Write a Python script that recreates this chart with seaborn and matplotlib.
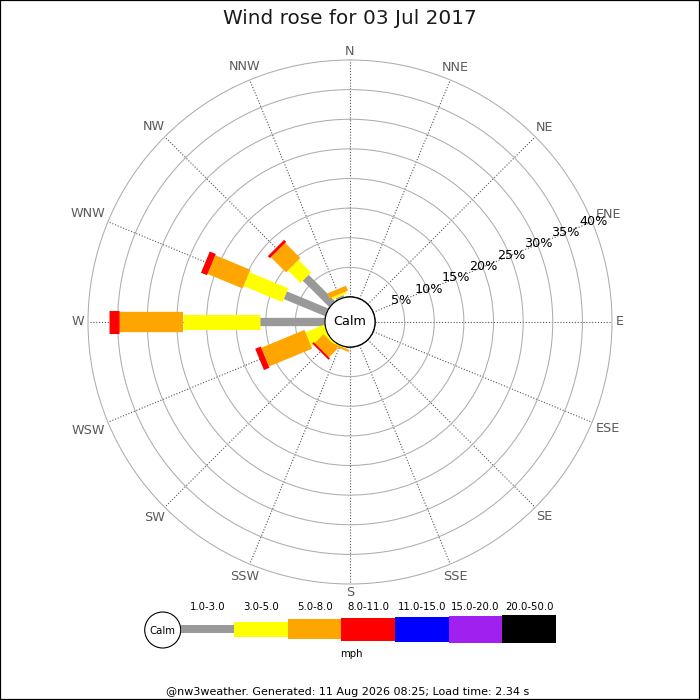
import numpy as np
import pandas as pd
import matplotlib
matplotlib.use("Agg")
import matplotlib.pyplot as plt
import seaborn as sns
from matplotlib.patches import Circle, Rectangle

# ---------------- data ----------------
directions = ['N', 'NNE', 'NE', 'ENE', 'E', 'ESE', 'SE', 'SSE',
              'S', 'SSW', 'SW', 'WSW', 'W', 'WNW', 'NW', 'NNW']
speed_bins = ['1.0-3.0', '3.0-5.0', '5.0-8.0', '8.0-11.0',
              '11.0-15.0', '15.0-20.0', '20.0-50.0']
#               N  NNE NE ENE E ESE SE SSE S  SSW   SW    WSW   W     WNW   NW    NNW
freq_1_3   = [0, 0, 0, 0, 0, 0, 0, 0, 0, 0.10, 0.00, 0.00, 11.0, 7.6, 6.35, 0.40]
freq_3_5   = [0, 0, 0, 0, 0, 0, 0, 0, 0, 0.10, 0.40, 3.40, 13.0, 7.1, 3.00, 0.40]
freq_5_8   = [0, 0, 0, 0, 0, 0, 0, 0, 0, 0.35, 2.10, 7.90, 10.8, 6.4, 3.60, 0.90]
freq_8_11  = [0, 0, 0, 0, 0, 0, 0, 0, 0, 0.00, 0.35, 1.00, 1.7, 1.1, 0.50, 0.00]
freq_11_15 = [0] * 16
freq_15_20 = [0] * 16
freq_20_50 = [0] * 16
radial_ticks = [5, 10, 15, 20, 25, 30, 35, 40]
unit_label = 'mph'
title = 'Wind rose for 03 Jul 2017'
footer = '@nw3weather. Generated: 11 Aug 2026 08:25; Load time: 2.34 s'

series = [freq_1_3, freq_3_5, freq_5_8, freq_8_11, freq_11_15, freq_15_20, freq_20_50]
bin_colors = sns.color_palette(['#999999', '#ffff00', '#ffa500', '#ff0000',
                                '#0000ff', '#a020f0', '#000000'])
bin_widths_px = [8.3, 15, 20.3, 23, 25, 27, 28.3]

df = pd.DataFrame({'direction': directions})
for name, vals in zip(speed_bins, series):
    df[name] = vals

# ---------------- figure ----------------
sns.set_theme(style='white')
plt.rcParams['font.family'] = ['DejaVu Sans']

fig = plt.figure(figsize=(7, 7), dpi=100)
fig.patch.set_facecolor('white')

R_OUT = 262.0      # px radius of outer ring
R_CALM = 25.0      # px radius of calm circle
RMAX = 40.0
px_per_pct = (R_OUT - R_CALM) / RMAX
cx, cy = 350.0, 322.0
size = 2 * R_OUT / 700.0
ax = fig.add_axes([cx / 700 - size / 2, (700 - cy) / 700 - size / 2, size, size],
                  projection='polar')
ax.set_theta_zero_location('N')
ax.set_theta_direction(-1)
ax.set_ylim(0, RMAX)
ax.set_rorigin(-R_CALM / px_per_pct)
ax.set_facecolor('white')

thetas = np.deg2rad(np.arange(16) * 22.5)
ax.set_xticks(thetas)
ax.set_yticks(radial_ticks)
ax.set_xticklabels([])
ax.set_yticklabels([])
ax.yaxis.grid(True, color='#adadad', lw=0.75, ls='-')
ax.xaxis.grid(True, color='#555555', lw=0.8, ls=(0, (1, 1.6)))
for gl in ax.yaxis.get_gridlines():
    gl.set_clip_on(False)
for sp in ax.spines.values():
    sp.set_visible(False)
ax.tick_params(length=0)

# stacked bars drawn as thick radial strokes
cum = np.zeros(16)
for k, (name, col, wpx) in enumerate(zip(speed_bins, bin_colors, bin_widths_px)):
    vals = df[name].to_numpy(dtype=float)
    for i in range(16):
        if vals[i] > 0:
            ax.plot([thetas[i], thetas[i]], [cum[i], cum[i] + vals[i]],
                    color=col, lw=wpx * 72 / 100, solid_capstyle='butt',
                    zorder=3 + k)
    cum += vals

# calm circle
ax.add_patch(Circle((0.5, 0.5), R_CALM / (2 * R_OUT), transform=ax.transAxes,
                    facecolor='white', edgecolor='black', lw=0.8, zorder=20,
                    clip_on=False))
ax.text(0.5, 0.5, 'Calm', transform=ax.transAxes, ha='center', va='center',
        fontsize=9.2, color='black', zorder=21)

# radial labels along ENE
for p in radial_ticks:
    ax.text(np.deg2rad(67.5), p + 0.2, f'{p}%', ha='center', va='center',
            fontsize=9.2, color='black', zorder=22)

# compass labels
char_w = {'N': 9.6, 'E': 8.1, 'S': 8.1, 'W': 12.7}
for th, lab in zip(thetas, directions):
    w = sum(char_w[c] for c in lab)
    h = 9.3
    rpx = 266 + 0.5 * (abs(np.sin(th)) * w + abs(np.cos(th)) * h)
    ax.text(th, (rpx - R_CALM) / px_per_pct, lab, ha='center', va='center',
            fontsize=9.2, color='#5a5a5a', clip_on=False)

# overlay axes in pixel coordinates for title, legend and footer
lax = fig.add_axes([0, 0, 1, 1], zorder=10)
lax.set_xlim(0, 700)
lax.set_ylim(700, 0)
lax.axis('off')
lax.patch.set_alpha(0)

lax.text(350, 18, title, ha='center', va='center', fontsize=14.4, color='#1a1a1a')

seg_x0, seg_w, seg_cy = 180.6, 53.6, 629.2
lax.add_patch(Circle((162.7, 630), 18, facecolor='white', edgecolor='black', lw=0.8))
lax.text(162.7, 630.5, 'Calm', ha='center', va='center', fontsize=7.3, color='black')
for k, (name, col, wpx) in enumerate(zip(speed_bins, bin_colors, bin_widths_px)):
    x0 = seg_x0 + k * seg_w
    lax.add_patch(Rectangle((x0, seg_cy - wpx / 2), seg_w, wpx, facecolor=col,
                            edgecolor='none'))
    lax.text(x0 + seg_w / 2, 607, name, ha='center', va='center', fontsize=7.3,
             color='black')
lax.text(351, 654, unit_label, ha='center', va='center', fontsize=7.3, color='black')
lax.text(348, 692, footer, ha='center', va='center', fontsize=8, color='black')

fig.add_artist(Rectangle((0, 0), 1, 1, transform=fig.transFigure, fill=False,
                         edgecolor='black', lw=1.6))

fig.savefig('out.png', dpi=100)
